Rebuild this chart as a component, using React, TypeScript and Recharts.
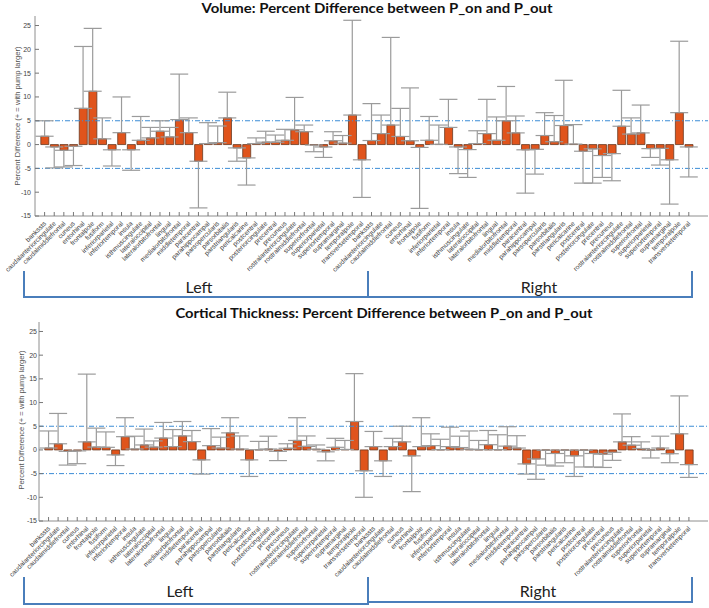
import React from 'react';
import { ComposedChart, Bar, Line, XAxis, YAxis, ErrorBar, ReferenceLine } from 'recharts';

const regions = [
  'bankssts', 'caudalanteriorcingulate', 'caudalmiddlefrontal', 'cuneus', 'entorhinal',
  'frontalpole', 'fusiform', 'inferiorparietal', 'inferiortemporal', 'insula',
  'isthmuscingulate', 'lateraloccipital', 'lateralorbitofrontal', 'lingual', 'medialorbitofrontal',
  'middletemporal', 'paracentral', 'parahippocampal', 'parsopercularis', 'parsorbitalis',
  'parstriangularis', 'pericalcarine', 'postcentral', 'posteriorcingulate', 'precentral',
  'precuneus', 'rostralanteriorcingulate', 'rostralmiddlefrontal', 'superiorfrontal', 'superiorparietal',
  'superiortemporal', 'supramarginal', 'temporalpole', 'transversetemporal',
];
const hemispheres = ['Left', 'Right'];
const yTicks = [-15, -10, -5, 0, 5, 10, 15, 20, 25];
const yDomain = [-15, 27];
const thresholds = [5, -5];

const volumeDiff = [
  1.75, -0.5, -1.2, -0.35, 7.6, 11.2, 1.2, -1.1, 2.5, -1.1,
  0.9, 1.4, 2.8, 1.6, 5.25, 2.5, -3.5, 0.2, 0.4, 5.6,
  -0.7, -2.8, 0.2, 0.5, 0.5, 0.9, 3.1, 2.7, -0.1, -0.5,
  0.8, 0.3, 6.2, -3.2,
  0.85, 2.3, 4.1, 1.7, 0.8, -0.6, 0.9, 0.05, 3.6, -0.5,
  -1.05, 0.2, 2.3, 0.9, 5.0, 2.45, -1.1, -1.0, 1.9, 0.6,
  4.0, 0.1, -1.4, -0.9, -2.3, -1.9, 3.85, 2.2, 2.45, -0.85,
  -0.8, -3.2, 6.7, -0.5,
];
const volumeSD = [
  3.25, 4.4, 3.5, 4.05, 13.0, 13.2, 4.4, 3.4, 7.5, 4.3,
  5.0, 2.2, 2.2, 2.0, 9.55, 3.1, 9.8, 4.4, 3.5, 5.4,
  2.8, 5.7, 1.2, 2.3, 1.5, 2.3, 6.8, 1.4, 1.4, 2.2,
  1.9, 1.6, 19.9, 7.9,
  7.75, 3.9, 18.4, 5.9, 11.1, 12.8, 5.0, 4.05, 5.9, 5.6,
  5.85, 2.7, 7.2, 4.9, 7.2, 3.55, 9.1, 5.2, 4.8, 5.5,
  9.5, 4.1, 6.7, 7.2, 4.6, 5.7, 7.55, 3.4, 5.85, 1.85,
  3.5, 9.3, 15.0, 6.3,
];
const thicknessDiff = [
  0.4, 1.3, -0.3, -0.2, 1.7, 0.6, 0.55, -1.05, 2.8, 0.2,
  1.05, 0.6, 2.5, 0.7, 2.95, 1.75, -2.1, 0.9, 0.4, 3.6,
  0.2, -2.1, 0.05, 0.2, -0.3, 0.35, 2.0, 0.75, 0.15, -0.4,
  0.55, 0.1, 6.0, -4.4,
  0.7, -2.3, 0.7, 1.7, -1.25, 0.7, 0.9, 0.05, 0.7, 0.5,
  0.15, 0.05, 1.1, 0.05, 0.8, 0.4, -2.95, -1.9, -0.05, -0.75,
  -0.05, -1.25, -0.05, -0.75, -0.9, -0.5, 1.7, 1.0, 0.3, -0.05,
  0.4, -0.8, 3.4, -3.1,
];
const thicknessSD = [
  3.6, 6.4, 2.9, 2.7, 14.3, 4.0, 3.25, 2.25, 4.0, 2.7,
  3.35, 1.3, 3.3, 3.6, 3.05, 2.35, 3.0, 3.6, 2.3, 3.2,
  2.75, 3.5, 1.75, 2.7, 1.95, 0.95, 4.8, 2.2, 0.9, 1.9,
  1.9, 1.9, 10.1, 5.6,
  3.2, 3.3, 1.75, 3.3, 7.55, 6.1, 2.5, 2.2, 4.1, 2.4,
  3.85, 1.95, 3.0, 3.15, 4.1, 2.6, 2.15, 4.3, 3.15, 2.65,
  2.65, 4.35, 3.55, 2.85, 2.8, 1.7, 5.9, 1.8, 1.4, 1.65,
  2.5, 1.9, 8.0, 2.7,
];

const categories = hemispheres.flatMap((h) => regions.map((r) => `${h[0]}-${r}`));

const buildRows = (vals: number[], sds: number[]) =>
  categories.map((id, i) => ({
    id,
    v: vals[i],
    // one-sided whisker pointing away from zero
    e: vals[i] >= 0 ? [0, sds[i]] : [sds[i], 0],
  }));

const volumeRows = buildRows(volumeDiff, volumeSD);
const thicknessRows = buildRows(thicknessDiff, thicknessSD);

const FRAME = '#8e8e8e';
const LABEL_FONT = '"Liberation Sans", Arial, sans-serif';
const TITLE_FONT = 'Lato, "Open Sans", sans-serif';

const RotTick = (props: any) => {
  const { x, y, payload } = props;
  const name = String(payload.value).slice(2);
  const ax = x + 2;
  const ay = y + 2;
  return (
    <text
      x={ax}
      y={ay}
      transform={`rotate(-45 ${ax} ${ay})`}
      textAnchor="end"
      fontSize={6.6}
      fill="#3a3a3a"
      fontFamily={LABEL_FONT}
    >
      {name}
    </text>
  );
};

const EmptyTick = () => <g />;

type PanelProps = {
  rows: any[];
  height: number;
  xAxisHeight: number;
  yAxisWidth: number;
  padLeft: number;
  padRight: number;
  yTickMargin: number;
};

const Panel = ({ rows, height, xAxisHeight, yAxisWidth, padLeft, padRight, yTickMargin }: PanelProps) => (
  <ComposedChart
    width={709}
    height={height}
    data={rows}
    margin={{ top: 16, right: 1, left: 0, bottom: 0 }}
    barCategoryGap={0}
  >
    <XAxis
      dataKey="id"
      type="category"
      interval={0}
      height={xAxisHeight}
      padding={{ left: padLeft, right: padRight }}
      tickSize={-4}
      tickMargin={10}
      tick={<RotTick />}
      stroke={FRAME}
      tickLine={{ stroke: '#777' }}
      axisLine={{ stroke: FRAME }}
    />
    <XAxis
      xAxisId="top"
      dataKey="id"
      type="category"
      orientation="top"
      interval={0}
      height={0}
      padding={{ left: padLeft, right: padRight }}
      tickSize={-5}
      tick={<EmptyTick />}
      tickLine={{ stroke: '#777' }}
      axisLine={{ stroke: FRAME }}
    />
    <YAxis
      type="number"
      domain={yDomain}
      ticks={yTicks}
      interval={0}
      allowDataOverflow
      width={yAxisWidth}
      tickSize={-4}
      tickMargin={yTickMargin}
      tick={{ fontSize: 7, fill: '#444', fontFamily: LABEL_FONT }}
      tickLine={{ stroke: '#777' }}
      axisLine={{ stroke: FRAME }}
    />
    <YAxis
      yAxisId="right"
      orientation="right"
      type="number"
      domain={yDomain}
      ticks={yTicks}
      interval={0}
      allowDataOverflow
      width={0}
      tickSize={-4}
      tick={<EmptyTick />}
      tickLine={{ stroke: '#777' }}
      axisLine={{ stroke: FRAME }}
    />
    {thresholds.map((t) => (
      <ReferenceLine key={t} y={t} stroke="#3b8cd6" strokeWidth={1} strokeDasharray="5 2 1 2" />
    ))}
    <Line dataKey="v" stroke="none" dot={false} activeDot={false} isAnimationActive={false} legendType="none">
      <ErrorBar dataKey="e" width={9} stroke="#9b9b9b" strokeWidth={1.2} direction="y" />
    </Line>
    <Bar dataKey="v" fill="#e0541c" stroke="#6a3a22" strokeWidth={0.8} barSize={8} isAnimationActive={false} />
  </ComposedChart>
);

const Bracket = ({ d }: { d: string }) => (
  <path d={d} fill="none" stroke="#4a7ebb" strokeWidth={2} />
);

export default function App() {
  return (
    <div style={{ position: 'absolute', left: 0, top: 0, width: 709, height: 608, background: '#fff' }}>
      <div style={{ position: 'absolute', left: 0, top: 0 }}>
        <Panel rows={volumeRows} height={310} xAxisHeight={94} yAxisWidth={35} padLeft={4.8} padRight={14.4} yTickMargin={8} />
      </div>
      <div style={{ position: 'absolute', left: 0, top: 306 }}>
        <Panel rows={thicknessRows} height={302} xAxisHeight={87} yAxisWidth={39} padLeft={4.78} padRight={14.3} yTickMargin={6} />
      </div>
      <svg width={709} height={608} style={{ position: 'absolute', left: 0, top: 0, pointerEvents: 'none' }}>
        <text x={377} y={13} textAnchor="middle" fontFamily={TITLE_FONT} fontWeight="bold" fontSize={14} fill="#111"
          textLength={351} lengthAdjust="spacingAndGlyphs">
          Volume: Percent Difference between P_on and P_out
        </text>
        <text x={384} y={318} textAnchor="middle" fontFamily={TITLE_FONT} fontWeight="bold" fontSize={14} fill="#111"
          textLength={417} lengthAdjust="spacingAndGlyphs">
          Cortical Thickness: Percent Difference between P_on and P_out
        </text>
        <text transform="translate(19.5,116) rotate(-90)" textAnchor="middle" fontFamily={LABEL_FONT} fontSize={7.6} fill="#555">
          Percent Difference (+ = with pump larger)
        </text>
        <text transform="translate(23.5,420) rotate(-90)" textAnchor="middle" fontFamily={LABEL_FONT} fontSize={7.6} fill="#555">
          Percent Difference (+ = with pump larger)
        </text>
        <Bracket d="M24,271 V297 H368 V271" />
        <Bracket d="M368,297 H692 V271" />
        <text x={199} y={293} textAnchor="middle" fontFamily={TITLE_FONT} fontSize={16} fill="#222">{hemispheres[0]}</text>
        <text x={539} y={293} textAnchor="middle" fontFamily={TITLE_FONT} fontSize={16} fill="#222">{hemispheres[1]}</text>
        <Bracket d="M24,577 V604 H368 V577" />
        <Bracket d="M368,602 H692 V577" />
        <text x={180} y={597} textAnchor="middle" fontFamily={TITLE_FONT} fontSize={16} fill="#222">{hemispheres[0]}</text>
        <text x={538} y={597} textAnchor="middle" fontFamily={TITLE_FONT} fontSize={16} fill="#222">{hemispheres[1]}</text>
      </svg>
    </div>
  );
}
